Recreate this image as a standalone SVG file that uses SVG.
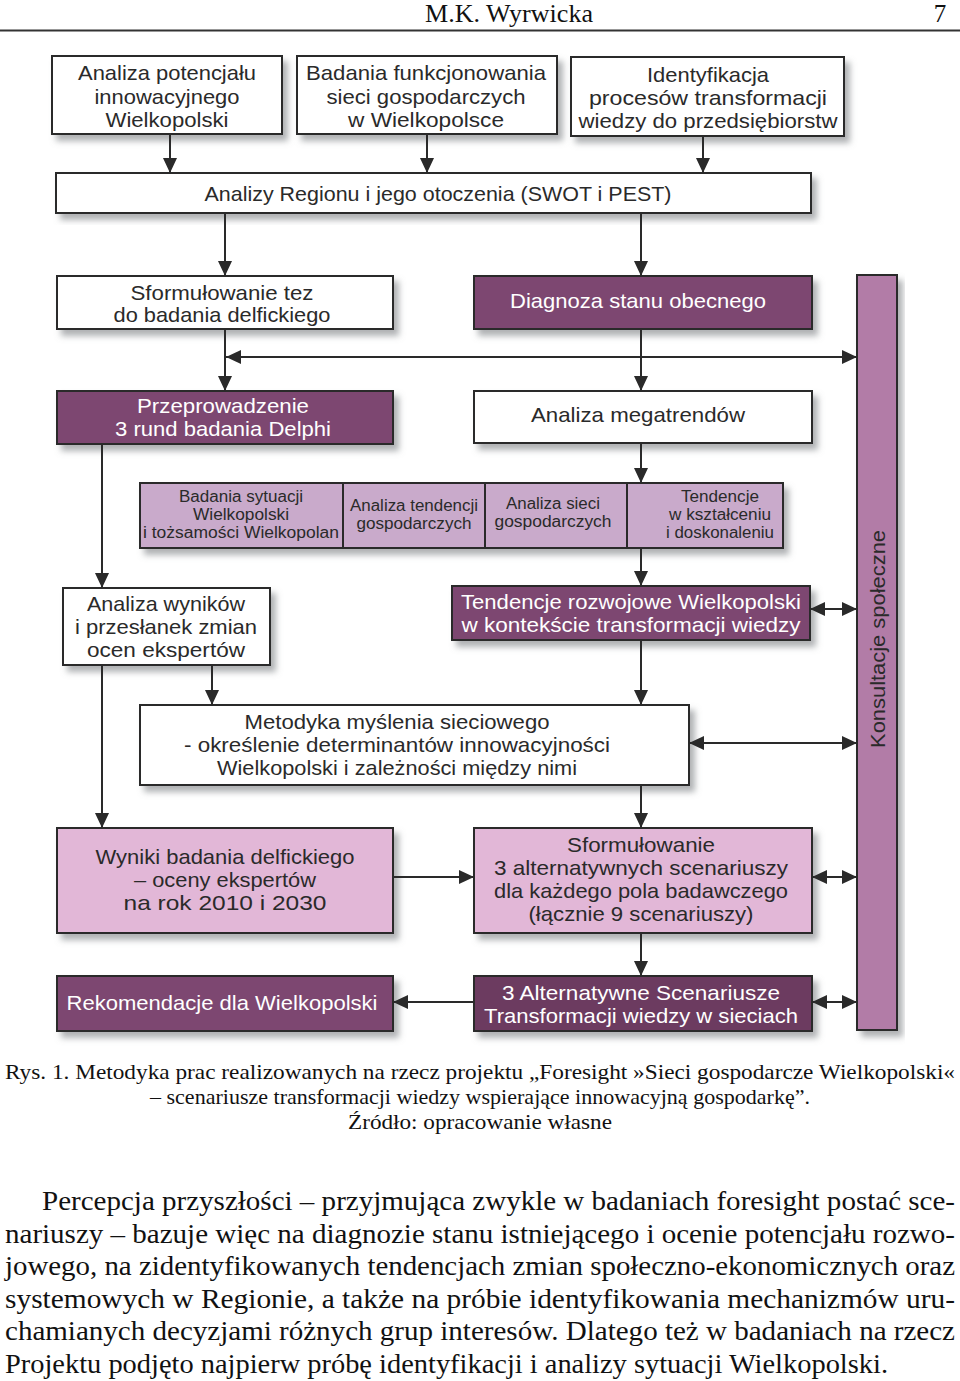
<svg xmlns="http://www.w3.org/2000/svg" width="960" height="1381" viewBox="0 0 960 1381">
<style>
.bx{stroke:#2a2a2a;stroke-width:2}
.w{fill:#ffffff}
.dp{fill:#7d4671}
.dp2{fill:#6c3b60}
.lp{fill:#e2b7d7}
.rw{fill:#c9aacb}
.col{fill:#b27ba7}
.t{font-family:"Liberation Sans","DejaVu Sans",sans-serif;font-size:21px;fill:#2a2a2a;text-anchor:middle}
.tw{fill:#ffffff}
.ts{font-size:16px}
.cn line{stroke:#2a2a2a;stroke-width:2;fill:none}
.serif{font-family:"Liberation Serif","DejaVu Serif",serif;fill:#111}
</style>
<defs>
<filter id="sh" x="-10%" y="-10%" width="130%" height="140%">
<feDropShadow dx="5" dy="6" stdDeviation="3" flood-color="#7a7f82" flood-opacity="0.6"/>
</filter>
<marker id="ah" markerUnits="userSpaceOnUse" markerWidth="16" markerHeight="16" refX="15" refY="7" orient="auto-start-reverse" viewBox="0 0 16 14">
<path d="M0,0 L15,7 L0,14 z" fill="#2a2a2a"/>
</marker>
</defs>
<rect width="960" height="1381" fill="#ffffff"/>

<!-- header -->
<text class="serif" x="509" y="22" font-size="25" text-anchor="middle" textLength="168" lengthAdjust="spacingAndGlyphs">M.K. Wyrwicka</text>
<text class="serif" x="940" y="22" font-size="25" text-anchor="middle">7</text>
<line x1="0" y1="30.5" x2="960" y2="30.5" stroke="#333" stroke-width="2"/>

<!-- nodes -->
<g id="n-potencjal">
<rect class="bx w" x="52" y="56" width="230" height="78" filter="url(#sh)"/>
<text class="t" x="167" y="80" textLength="178" lengthAdjust="spacingAndGlyphs">Analiza potencjału</text>
<text class="t" x="167" y="104" textLength="145" lengthAdjust="spacingAndGlyphs">innowacyjnego</text>
<text class="t" x="167" y="127" textLength="123" lengthAdjust="spacingAndGlyphs">Wielkopolski</text>
</g>
<g id="n-badania-sieci">
<rect class="bx w" x="297" y="56" width="260" height="78" filter="url(#sh)"/>
<text class="t" x="426" y="80" textLength="240" lengthAdjust="spacingAndGlyphs">Badania funkcjonowania</text>
<text class="t" x="426" y="104" textLength="199" lengthAdjust="spacingAndGlyphs">sieci gospodarczych</text>
<text class="t" x="426" y="127" textLength="156" lengthAdjust="spacingAndGlyphs">w Wielkopolsce</text>
</g>
<g id="n-identyfikacja">
<rect class="bx w" x="571" y="57" width="273" height="79" filter="url(#sh)"/>
<text class="t" x="708" y="82" textLength="122" lengthAdjust="spacingAndGlyphs">Identyfikacja</text>
<text class="t" x="708" y="105" textLength="238" lengthAdjust="spacingAndGlyphs">procesów transformacji</text>
<text class="t" x="708" y="128" textLength="259" lengthAdjust="spacingAndGlyphs">wiedzy do przedsiębiorstw</text>
</g>
<g id="n-analizy-regionu">
<rect class="bx w" x="56" y="173" width="755" height="40" filter="url(#sh)"/>
<text class="t" x="438" y="201" font-size="22" textLength="467" lengthAdjust="spacingAndGlyphs">Analizy Regionu i jego otoczenia (SWOT i PEST)</text>
</g>
<g id="n-tezy">
<rect class="bx w" x="57" y="276" width="336" height="53" filter="url(#sh)"/>
<text class="t" x="222" y="300" textLength="183" lengthAdjust="spacingAndGlyphs">Sformułowanie tez</text>
<text class="t" x="222" y="322" textLength="217" lengthAdjust="spacingAndGlyphs">do badania delfickiego</text>
</g>
<g id="n-diagnoza">
<rect class="bx dp" x="474" y="276" width="338" height="53" filter="url(#sh)"/>
<text class="t tw" x="638" y="308" textLength="256" lengthAdjust="spacingAndGlyphs">Diagnoza stanu obecnego</text>
</g>
<g id="n-delphi">
<rect class="bx dp" x="57" y="391" width="336" height="53" filter="url(#sh)"/>
<text class="t tw" x="223" y="413" textLength="172" lengthAdjust="spacingAndGlyphs">Przeprowadzenie</text>
<text class="t tw" x="223" y="436" textLength="216" lengthAdjust="spacingAndGlyphs">3 rund badania Delphi</text>
</g>
<g id="n-megatrendy">
<rect class="bx w" x="474" y="391" width="338" height="52" filter="url(#sh)"/>
<text class="t" x="638" y="422" textLength="214" lengthAdjust="spacingAndGlyphs">Analiza megatrendów</text>
</g>
<g id="n-row">
<rect class="bx rw" x="140" y="483" width="643" height="65" filter="url(#sh)"/>
<line x1="343" y1="483" x2="343" y2="548" stroke="#2a2a2a" stroke-width="2"/>
<line x1="485" y1="483" x2="485" y2="548" stroke="#2a2a2a" stroke-width="2"/>
<line x1="627" y1="483" x2="627" y2="548" stroke="#2a2a2a" stroke-width="2"/>
<text class="t ts" x="241" y="502" textLength="124" lengthAdjust="spacingAndGlyphs">Badania sytuacji</text>
<text class="t ts" x="241" y="520" textLength="96" lengthAdjust="spacingAndGlyphs">Wielkopolski</text>
<text class="t ts" x="241" y="538" textLength="196" lengthAdjust="spacingAndGlyphs">i tożsamości Wielkopolan</text>
<text class="t ts" x="414" y="511" textLength="128" lengthAdjust="spacingAndGlyphs">Analiza tendencji</text>
<text class="t ts" x="414" y="529" textLength="115" lengthAdjust="spacingAndGlyphs">gospodarczych</text>
<text class="t ts" x="553" y="509" textLength="94" lengthAdjust="spacingAndGlyphs">Analiza sieci</text>
<text class="t ts" x="553" y="527" textLength="117" lengthAdjust="spacingAndGlyphs">gospodarczych</text>
<text class="t ts" x="720" y="502" textLength="78" lengthAdjust="spacingAndGlyphs">Tendencje</text>
<text class="t ts" x="720" y="520" textLength="102" lengthAdjust="spacingAndGlyphs">w kształceniu</text>
<text class="t ts" x="720" y="538" textLength="108" lengthAdjust="spacingAndGlyphs">i doskonaleniu</text>
</g>
<g id="n-analiza-wynikow">
<rect class="bx w" x="63" y="588" width="207" height="77" filter="url(#sh)"/>
<text class="t" x="166" y="611" textLength="158" lengthAdjust="spacingAndGlyphs">Analiza wyników</text>
<text class="t" x="166" y="634" textLength="182" lengthAdjust="spacingAndGlyphs">i przesłanek zmian</text>
<text class="t" x="166" y="657" textLength="158" lengthAdjust="spacingAndGlyphs">ocen ekspertów</text>
</g>
<g id="n-tendencje">
<rect class="bx dp" x="452" y="586" width="358" height="54" filter="url(#sh)"/>
<text class="t tw" x="631" y="609" textLength="340" lengthAdjust="spacingAndGlyphs">Tendencje rozwojowe Wielkopolski</text>
<text class="t tw" x="631" y="632" textLength="339" lengthAdjust="spacingAndGlyphs">w kontekście transformacji wiedzy</text>
</g>
<g id="n-metodyka">
<rect class="bx w" x="140" y="705" width="549" height="80" filter="url(#sh)"/>
<text class="t" x="397" y="729" textLength="305" lengthAdjust="spacingAndGlyphs">Metodyka myślenia sieciowego</text>
<text class="t" x="397" y="752" textLength="426" lengthAdjust="spacingAndGlyphs">- określenie determinantów innowacyjności</text>
<text class="t" x="397" y="775" textLength="360" lengthAdjust="spacingAndGlyphs">Wielkopolski i zależności między nimi</text>
</g>
<g id="n-wyniki">
<rect class="bx lp" x="57" y="828" width="336" height="105" filter="url(#sh)"/>
<text class="t" x="225" y="864" textLength="259" lengthAdjust="spacingAndGlyphs">Wyniki badania delfickiego</text>
<text class="t" x="225" y="887" textLength="182" lengthAdjust="spacingAndGlyphs">– oceny ekspertów</text>
<text class="t" x="225" y="910" textLength="203" lengthAdjust="spacingAndGlyphs">na rok 2010 i 2030</text>
</g>
<g id="n-sformulowanie">
<rect class="bx lp" x="474" y="828" width="338" height="105" filter="url(#sh)"/>
<text class="t" x="641" y="852" textLength="148" lengthAdjust="spacingAndGlyphs">Sformułowanie</text>
<text class="t" x="641" y="875" textLength="294" lengthAdjust="spacingAndGlyphs">3 alternatywnych scenariuszy</text>
<text class="t" x="641" y="898" textLength="294" lengthAdjust="spacingAndGlyphs">dla każdego pola badawczego</text>
<text class="t" x="641" y="921" textLength="225" lengthAdjust="spacingAndGlyphs">(łącznie 9 scenariuszy)</text>
</g>
<g id="n-rekomendacje">
<rect class="bx dp" x="57" y="976" width="336" height="55" filter="url(#sh)"/>
<text class="t tw" x="222" y="1010" textLength="311" lengthAdjust="spacingAndGlyphs">Rekomendacje dla Wielkopolski</text>
</g>
<g id="n-scenariusze">
<rect class="bx dp2" x="474" y="976" width="338" height="55" filter="url(#sh)"/>
<text class="t tw" x="641" y="1000" textLength="278" lengthAdjust="spacingAndGlyphs">3 Alternatywne Scenariusze</text>
<text class="t tw" x="641" y="1023" textLength="314" lengthAdjust="spacingAndGlyphs">Transformacji wiedzy w sieciach</text>
</g>
<g id="n-konsultacje">
<rect class="bx col" x="857" y="275" width="40" height="755" filter="url(#sh)"/>
<text class="t" x="0" y="0" font-size="22" transform="translate(885,639) rotate(-90)" textLength="218" lengthAdjust="spacingAndGlyphs">Konsultacje społeczne</text>
</g>

<!-- connectors -->
<g id="connectors" class="cn">
<line x1="170" y1="134" x2="170" y2="173" marker-end="url(#ah)"/>
<line x1="427" y1="134" x2="427" y2="173" marker-end="url(#ah)"/>
<line x1="703" y1="136" x2="703" y2="173" marker-end="url(#ah)"/>
<line x1="225" y1="213" x2="225" y2="276" marker-end="url(#ah)"/>
<line x1="641" y1="213" x2="641" y2="276" marker-end="url(#ah)"/>
<line x1="225" y1="329" x2="225" y2="391" marker-end="url(#ah)"/>
<line x1="641" y1="329" x2="641" y2="391" marker-end="url(#ah)"/>
<line x1="226" y1="357" x2="857" y2="357" marker-start="url(#ah)" marker-end="url(#ah)"/>
<line x1="641" y1="443" x2="641" y2="483" marker-end="url(#ah)"/>
<line x1="641" y1="548" x2="641" y2="586" marker-end="url(#ah)"/>
<line x1="102" y1="444" x2="102" y2="588" marker-end="url(#ah)"/>
<line x1="102" y1="665" x2="102" y2="828" marker-end="url(#ah)"/>
<line x1="212" y1="665" x2="212" y2="705" marker-end="url(#ah)"/>
<line x1="641" y1="640" x2="641" y2="705" marker-end="url(#ah)"/>
<line x1="810" y1="609" x2="857" y2="609" marker-start="url(#ah)" marker-end="url(#ah)"/>
<line x1="689" y1="743" x2="857" y2="743" marker-start="url(#ah)" marker-end="url(#ah)"/>
<line x1="641" y1="785" x2="641" y2="828" marker-end="url(#ah)"/>
<line x1="393" y1="877" x2="474" y2="877" marker-end="url(#ah)"/>
<line x1="812" y1="877" x2="857" y2="877" marker-start="url(#ah)" marker-end="url(#ah)"/>
<line x1="641" y1="933" x2="641" y2="976" marker-end="url(#ah)"/>
<line x1="474" y1="1002" x2="393" y2="1002" marker-end="url(#ah)"/>
<line x1="812" y1="1002" x2="857" y2="1002" marker-start="url(#ah)" marker-end="url(#ah)"/>
</g>

<!-- caption -->
<g font-size="22">
<text class="serif" x="5" y="1079" textLength="950" lengthAdjust="spacingAndGlyphs">Rys. 1. Metodyka prac realizowanych na rzecz projektu „Foresight »Sieci gospodarcze Wielkopolski«</text>
<text class="serif" x="150" y="1104" textLength="660" lengthAdjust="spacingAndGlyphs">– scenariusze transformacji wiedzy wspierające innowacyjną gospodarkę”.</text>
<text class="serif" x="348" y="1129" textLength="264" lengthAdjust="spacingAndGlyphs">Źródło: opracowanie własne</text>
</g>

<!-- body text -->
<g font-size="27">
<text class="serif" x="42" y="1210" textLength="913" lengthAdjust="spacingAndGlyphs">Percepcja przyszłości – przyjmująca zwykle w badaniach foresight postać sce-</text>
<text class="serif" x="5" y="1243" textLength="950" lengthAdjust="spacingAndGlyphs">nariuszy – bazuje więc na diagnozie stanu istniejącego i ocenie potencjału rozwo-</text>
<text class="serif" x="5" y="1275" textLength="950" lengthAdjust="spacingAndGlyphs">jowego, na zidentyfikowanych tendencjach zmian społeczno-ekonomicznych oraz</text>
<text class="serif" x="5" y="1308" textLength="950" lengthAdjust="spacingAndGlyphs">systemowych w Regionie, a także na próbie identyfikowania mechanizmów uru-</text>
<text class="serif" x="5" y="1340" textLength="950" lengthAdjust="spacingAndGlyphs">chamianych decyzjami różnych grup interesów. Dlatego też w badaniach na rzecz</text>
<text class="serif" x="5" y="1373" textLength="883" lengthAdjust="spacingAndGlyphs">Projektu podjęto najpierw próbę identyfikacji i analizy sytuacji Wielkopolski.</text>
</g>
</svg>
